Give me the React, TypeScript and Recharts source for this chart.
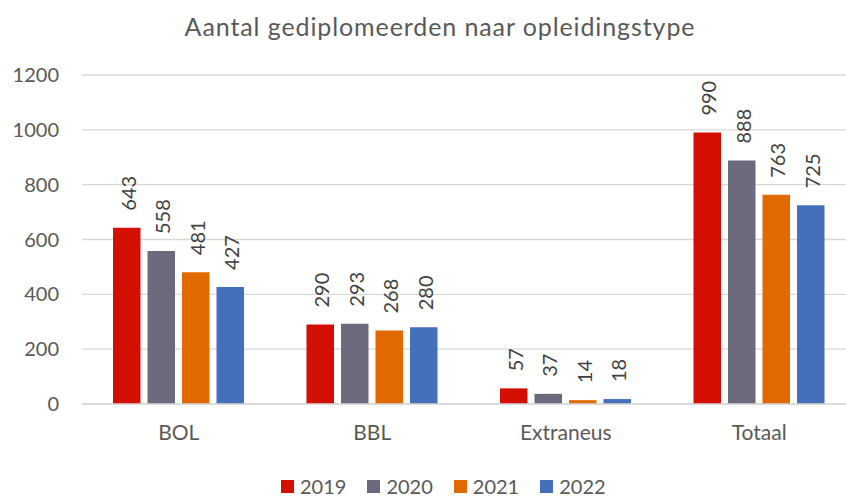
import React from 'react';
import { BarChart, Bar, XAxis, YAxis, CartesianGrid, Legend, LabelList } from 'recharts';

const categories = ['BOL', 'BBL', 'Extraneus', 'Totaal'];
const years = ['2019', '2020', '2021', '2022'];
const values2019 = [643, 290, 57, 990];
const values2020 = [558, 293, 37, 888];
const values2021 = [481, 268, 14, 763];
const values2022 = [427, 280, 18, 725];
const yTicks = [0, 200, 400, 600, 800, 1000, 1200];

const colors = ['#D20F00', '#6B6A7C', '#E06A00', '#4470B9'];
const FONT = 'Lato, "Noto Sans", sans-serif';

const data = categories.map((c, i) => ({
  name: c,
  y2019: values2019[i],
  y2020: values2020[i],
  y2021: values2021[i],
  y2022: values2022[i],
}));

// rotated value label sitting above each bar
const VerticalLabel = (props: any) => {
  const { x, y, width, value } = props;
  const cx = x + width / 2 + 1;
  const ty = y - 17;
  return (
    <text
      x={cx}
      y={ty}
      transform={`rotate(-90, ${cx}, ${ty})`}
      textAnchor="start"
      dominantBaseline="central"
      fill="#404040"
      fontSize={20}
      fontFamily={FONT}
    >
      {value}
    </text>
  );
};

function LegendContent() {
  return (
    <div
      style={{
        height: 32,
        display: 'flex',
        alignItems: 'center',
        gap: 21,
        paddingLeft: 281,
        paddingTop: 10,
        boxSizing: 'border-box',
      }}
    >
      {years.map((yr, i) => (
        <div key={yr} style={{ display: 'flex', alignItems: 'center', height: 22 }}>
          <span style={{ width: 13, height: 13, background: colors[i], display: 'block' }} />
          <span
            style={{
              marginLeft: 6,
              fontSize: 20,
              fontFamily: FONT,
              color: '#595959',
              lineHeight: '22px',
              whiteSpace: 'nowrap',
            }}
          >
            {yr}
          </span>
        </div>
      ))}
    </div>
  );
}

export default function App() {
  const keys = ['y2019', 'y2020', 'y2021', 'y2022'];
  return (
    <div
      style={{
        position: 'absolute',
        left: 0,
        top: 0,
        width: 846,
        height: 497,
        overflow: 'hidden',
        background: '#fff',
      }}
    >
      <div
        style={{
          position: 'absolute',
          top: 11,
          left: 0,
          width: 880,
          textAlign: 'center',
          fontFamily: FONT,
          fontSize: 25,
          letterSpacing: 0.9,
          color: '#595959',
          zIndex: 2,
        }}
      >
        Aantal gediplomeerden naar opleidingstype
      </div>
      <BarChart
        width={860}
        height={497}
        data={data}
        margin={{ top: 75, right: 4, left: 0, bottom: 0 }}
        barSize={27.5}
        barGap={7}
      >
        <CartesianGrid vertical={false} stroke="#D9D9D9" strokeWidth={1.3} />
        <XAxis
          dataKey="name"
          height={61}
          tickLine={false}
          axisLine={{ stroke: '#D9D9D9', strokeWidth: 1.3 }}
          tick={{ fill: '#595959', fontSize: 21, fontFamily: FONT }}
          tickMargin={15}
        />
        <YAxis
          width={82}
          domain={[0, 1200]}
          ticks={yTicks}
          interval={0}
          tickLine={false}
          axisLine={false}
          tick={{ fill: '#595959', fontSize: 20, fontFamily: FONT }}
          tickMargin={17}
        />
        <Legend verticalAlign="bottom" content={<LegendContent />} />
        {keys.map((k, i) => (
          <Bar key={k} dataKey={k} name={years[i]} fill={colors[i]} isAnimationActive={false}>
            <LabelList dataKey={k} content={<VerticalLabel />} />
          </Bar>
        ))}
      </BarChart>
    </div>
  );
}
